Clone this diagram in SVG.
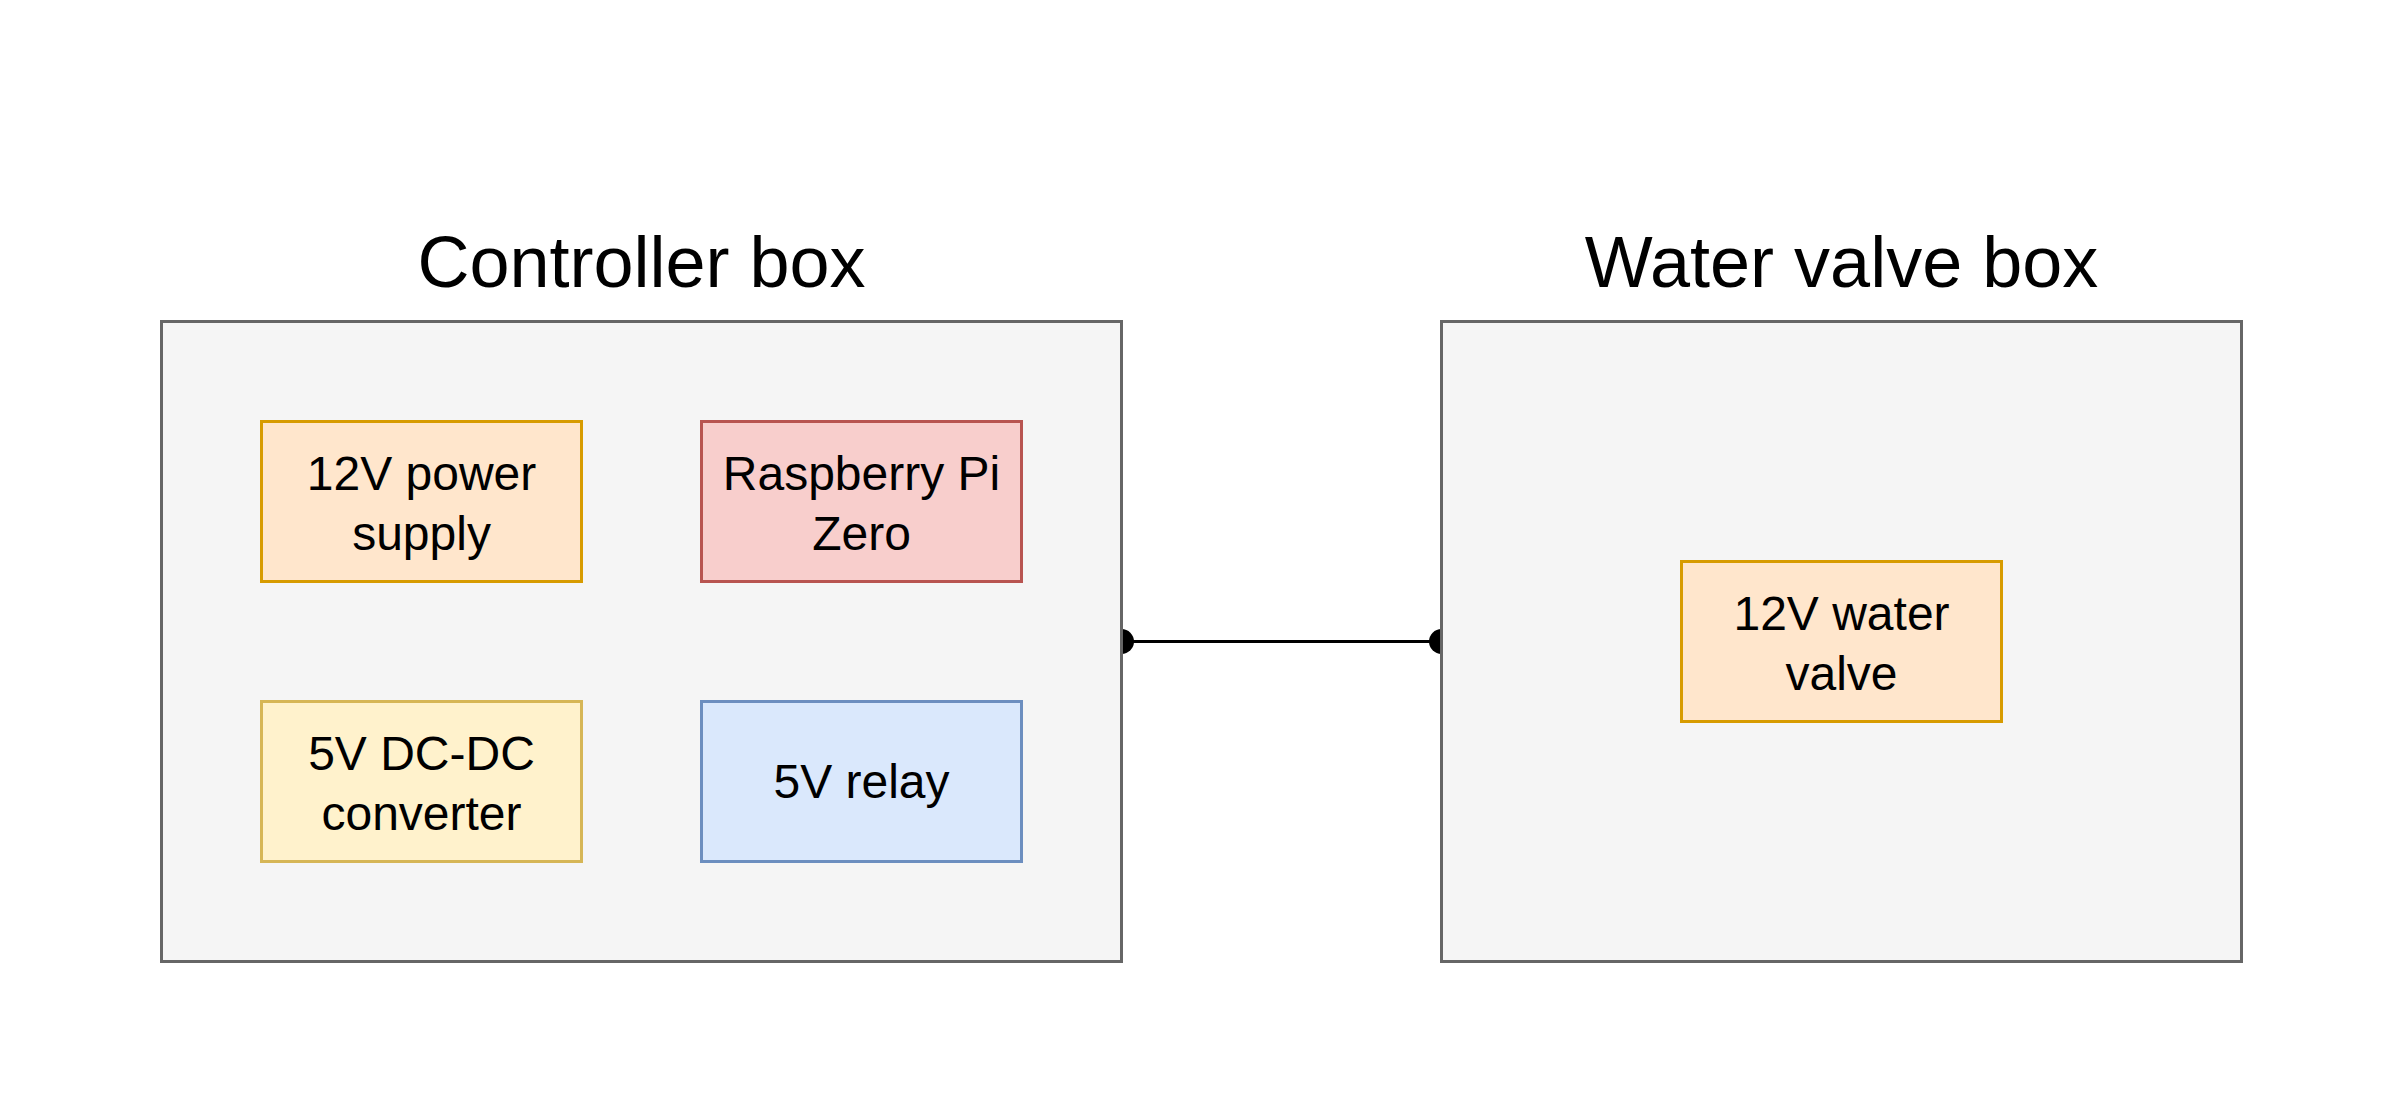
<svg xmlns="http://www.w3.org/2000/svg" width="2400" height="1120" viewBox="0 0 2400 1120">
<style>
text { font-family: "Liberation Sans", Arial, Helvetica, sans-serif; fill: #000000; text-anchor: middle; }
.title { font-size: 72px; }
.lbl { font-size: 48px; }
.outer { fill: #f5f5f5; stroke: #666666; stroke-width: 3; }
.orange { fill: #ffe6cc; stroke: #d79b00; stroke-width: 3; }
.red { fill: #f8cecc; stroke: #b85450; stroke-width: 3; }
.yellow { fill: #fff2cc; stroke: #d6b656; stroke-width: 3; }
.blue { fill: #dae8fc; stroke: #6c8ebf; stroke-width: 3; }
.wire { stroke: #000000; stroke-width: 3; fill: none; }
.dot { fill: #000000; }
</style>
<rect width="2400" height="1120" fill="#ffffff"/>
<g id="connectors">
  <line class="wire" x1="1121.5" y1="641.5" x2="1441.5" y2="641.5"/>
  <circle class="dot" cx="1121.5" cy="641.5" r="12.5"/>
  <circle class="dot" cx="1441.5" cy="641.5" r="12.5"/>
</g>
<g id="controller-box">
  <rect class="outer" x="161.5" y="321.5" width="960" height="640"/>
  <text class="title" x="641.5" y="287">Controller box</text>
</g>
<g id="water-valve-box">
  <rect class="outer" x="1441.5" y="321.5" width="800" height="640"/>
  <text class="title" x="1841.5" y="287">Water valve box</text>
</g>
<g id="power-supply">
  <rect class="orange" x="261.5" y="421.5" width="320" height="160"/>
  <text class="lbl" x="421.5" y="490">12V power</text>
  <text class="lbl" x="421.5" y="550">supply</text>
</g>
<g id="raspberry-pi">
  <rect class="red" x="701.5" y="421.5" width="320" height="160"/>
  <text class="lbl" x="861.5" y="490">Raspberry Pi</text>
  <text class="lbl" x="861.5" y="550">Zero</text>
</g>
<g id="dc-dc-converter">
  <rect class="yellow" x="261.5" y="701.5" width="320" height="160"/>
  <text class="lbl" x="421.5" y="770">5V DC-DC</text>
  <text class="lbl" x="421.5" y="830">converter</text>
</g>
<g id="relay">
  <rect class="blue" x="701.5" y="701.5" width="320" height="160"/>
  <text class="lbl" x="861.5" y="798">5V relay</text>
</g>
<g id="water-valve">
  <rect class="orange" x="1681.5" y="561.5" width="320" height="160"/>
  <text class="lbl" x="1841.5" y="630">12V water</text>
  <text class="lbl" x="1841.5" y="690">valve</text>
</g>
</svg>
